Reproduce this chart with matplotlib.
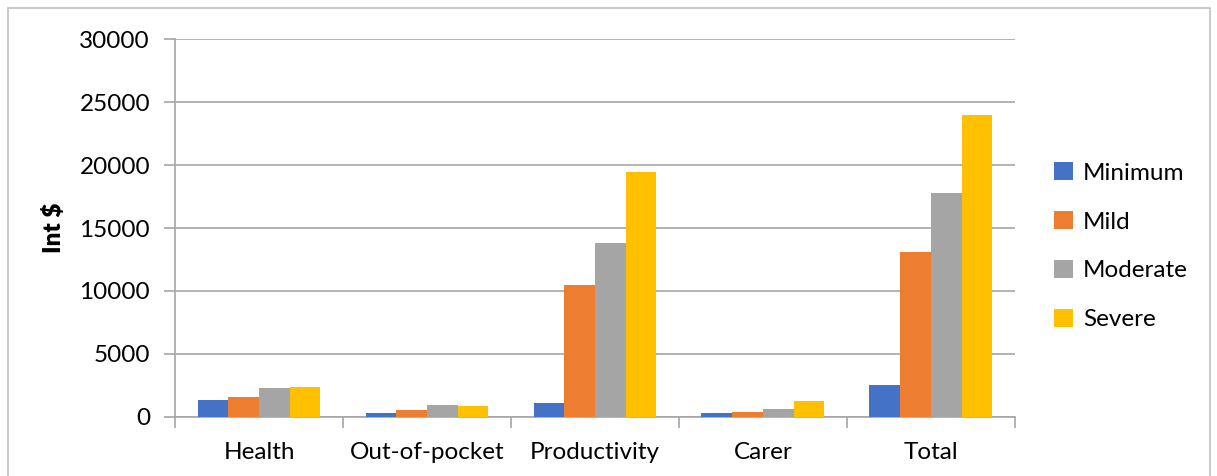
import numpy as np
import matplotlib
matplotlib.use('Agg')
import matplotlib.pyplot as plt
from matplotlib.patches import Rectangle

plt.rcParams['font.family'] = ['Lato', 'DejaVu Sans']

categories = ['Health', 'Out-of-pocket', 'Productivity', 'Carer', 'Total']
series_names = ['Minimum', 'Mild', 'Moderate', 'Severe']
minimum = [1320, 320, 1080, 320, 2560]
mild = [1590, 550, 10480, 420, 13100]
moderate = [2300, 950, 13800, 660, 17780]
severe = [2380, 900, 19440, 1270, 23970]
colors = ['#4472C4', '#ED7D31', '#A5A5A5', '#FFC000']
yticks = [0, 5000, 10000, 15000, 20000, 25000, 30000]

fig = plt.figure(figsize=(12.17, 4.76), dpi=100)
ax = fig.add_axes([0.1438, 0.124, 0.6902, 0.794])

# outer chart border
fig.patches.append(Rectangle((8 / 1217, -0.01), 1202 / 1217, 1 - 8 / 476 + 0.01,
                             transform=fig.transFigure, fill=False,
                             edgecolor='#bfbfbf', linewidth=1.2))

x = np.arange(len(categories))
width = 0.183
for i, (vals, name) in enumerate(zip([minimum, mild, moderate, severe], series_names)):
    ax.bar(x + (i - 1.5) * width, vals, width, color=colors[i], label=name, zorder=3)

ax.set_xlim(-0.5, len(categories) - 0.5)
ax.set_ylim(0, 30000)
ax.set_yticks(yticks)
ax.set_yticklabels([str(v) for v in yticks], fontsize=17.5)
ax.set_xticks(x)
ax.set_xticklabels(categories, fontsize=17.5)
ax.tick_params(axis='x', length=0, pad=18)
ax.set_xticks(np.arange(-0.5, len(categories)), minor=True)
ax.tick_params(axis='x', which='minor', length=8, color='#a6a6a6', width=1.2)
ax.tick_params(axis='y', length=8, color='#a6a6a6', width=1.2, pad=10)
ax.grid(axis='y', color='#a6a6a6', linewidth=1.2, zorder=0)
for s in ['top', 'right']:
    ax.spines[s].set_visible(False)
ax.spines['left'].set_color('#a6a6a6')
ax.spines['bottom'].set_color('#a6a6a6')
ax.spines['left'].set_linewidth(1.2)
ax.spines['bottom'].set_linewidth(1.2)
ax.set_ylabel('Int $', fontsize=17.5, fontweight='heavy', labelpad=10)

ax.legend(loc='center left', bbox_to_anchor=(1.02, 0.452), frameon=False,
          fontsize=17.5, handlelength=0.8, handleheight=0.8, labelspacing=1.12,
          handletextpad=0.4)

fig.savefig('out.png', dpi=100)
